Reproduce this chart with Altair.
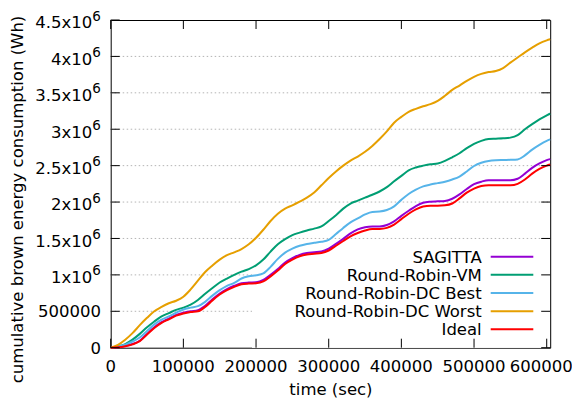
import altair as alt
import pandas as pd

# ---- data (time in seconds, energy in millions of Wh) ----
time_s = [0, 10000, 20000, 30000, 40000, 50000, 60000, 70000, 80000, 90000,
          100000, 110000, 120000, 130000, 140000, 150000, 160000, 170000, 180000, 190000,
          200000, 210000, 220000, 230000, 240000, 250000, 260000, 270000, 280000, 290000,
          300000, 310000, 320000, 330000, 340000, 350000, 360000, 370000, 380000, 390000,
          400000, 410000, 420000, 430000, 440000, 450000, 460000, 470000, 480000, 490000,
          500000, 510000, 520000, 530000, 540000, 550000, 560000, 570000, 580000, 590000,
          600000, 604800]

sagitta = [0, .005, .025, .05, .095, .19, .28, .35, .40, .45,
           .48, .50, .515, .575, .665, .745, .805, .85, .885, .895,
           .90, .93, 1.00, 1.08, 1.17, 1.23, 1.275, 1.30, 1.31, 1.32,
           1.36, 1.425, 1.495, 1.57, 1.625, 1.655, 1.665, 1.665, 1.685, 1.735,
           1.81, 1.88, 1.945, 1.99, 2.005, 2.01, 2.015, 2.045, 2.105, 2.18,
           2.245, 2.28, 2.30, 2.30, 2.30, 2.30, 2.32, 2.39, 2.47, 2.53,
           2.575, 2.59]
rr_vm = [0, .02, .05, .11, .19, .28, .36, .43, .475, .52,
         .55, .59, .655, .74, .82, .895, .95, 1.0, 1.045, 1.08,
         1.13, 1.21, 1.32, 1.42, 1.49, 1.545, 1.58, 1.61, 1.635, 1.665,
         1.74, 1.82, 1.91, 1.98, 2.02, 2.06, 2.10, 2.145, 2.205, 2.285,
         2.36, 2.435, 2.475, 2.50, 2.52, 2.53, 2.565, 2.615, 2.67, 2.74,
         2.80, 2.84, 2.865, 2.87, 2.875, 2.885, 2.92, 3.00, 3.07, 3.135,
         3.19, 3.215]
rr_dc_best = [0, .015, .04, .085, .14, .23, .32, .385, .43, .48,
              .525, .55, .57, .63, .715, .79, .85, .89, .95, .98,
              .995, 1.02, 1.11, 1.22, 1.305, 1.36, 1.40, 1.425, 1.44, 1.455,
              1.48, 1.56, 1.645, 1.72, 1.775, 1.83, 1.865, 1.87, 1.89, 1.94,
              2.03, 2.11, 2.17, 2.215, 2.24, 2.26, 2.28, 2.31, 2.35, 2.42,
              2.495, 2.54, 2.565, 2.575, 2.578, 2.58, 2.585, 2.64, 2.72, 2.785,
              2.84, 2.86]
rr_dc_worst = [0, .04, .11, .20, .31, .41, .50, .56, .61, .645,
               .70, .80, .92, 1.04, 1.13, 1.21, 1.27, 1.31, 1.355, 1.42,
               1.51, 1.62, 1.74, 1.84, 1.91, 1.955, 2.005, 2.06, 2.13, 2.23,
               2.33, 2.42, 2.50, 2.57, 2.625, 2.69, 2.77, 2.865, 2.97, 3.09,
               3.17, 3.24, 3.28, 3.315, 3.345, 3.39, 3.46, 3.54, 3.60, 3.665,
               3.72, 3.76, 3.785, 3.80, 3.84, 3.915, 3.985, 4.055, 4.12, 4.18,
               4.22, 4.235]
ideal = [0, .005, .02, .045, .09, .18, .27, .34, .39, .44,
         .47, .49, .50, .56, .65, .73, .79, .835, .87, .88,
         .885, .91, .98, 1.06, 1.15, 1.21, 1.255, 1.28, 1.29, 1.30,
         1.335, 1.40, 1.465, 1.53, 1.575, 1.61, 1.63, 1.63, 1.645, 1.69,
         1.765, 1.84, 1.90, 1.94, 1.95, 1.95, 1.955, 1.98, 2.05, 2.13,
         2.185, 2.22, 2.23, 2.23, 2.23, 2.23, 2.25, 2.31, 2.39, 2.455,
         2.50, 2.515]

series_names = ["SAGITTA", "Round-Robin-VM", "Round-Robin-DC Best",
                "Round-Robin-DC Worst", "Ideal"]
series_values = [sagitta, rr_vm, rr_dc_best, rr_dc_worst, ideal]
series_colors = ["#9400D3", "#009E73", "#56B4E9", "#E69F00", "#FF0000"]

x_ticks = [0, 100000, 200000, 300000, 400000, 500000, 600000]
x_tick_labels = ["0", "100000", "200000", "300000", "400000", "500000", "600000"]
y_ticks = [0, 500000, 1000000, 1500000, 2000000, 2500000, 3000000, 3500000, 4000000, 4500000]
y_tick_main = ["0", "500000", "1x10", "1.5x10", "2x10", "2.5x10", "3x10", "3.5x10", "4x10", "4.5x10"]
y_tick_sup = ["", "", "6", "6", "6", "6", "6", "6", "6", "6"]

# ---- layout ----
W, H = 439.5, 327.7
FONT = "DejaVu Sans"
FS = 16.5

xs = alt.Scale(domain=[0, 604800], nice=False, zero=False)
ys = alt.Scale(domain=[0, 4500000], nice=False, zero=False)

x_axis = alt.Axis(values=x_ticks, labels=False, ticks=False, tickSize=0, domain=False,
                  grid=False, title="time (sec)", titleFont=FONT, titleFontSize=FS,
                  titleFontWeight="normal", titleColor="black",
                  titleBaseline="alphabetic", titleY=47.0, titleX=W / 2)
y_axis = alt.Axis(values=y_ticks, labels=False, ticks=False, tickSize=0, domain=False,
                  grid=False, title="cumulative brown energy consumption (Wh)",
                  titleFont=FONT, titleFontSize=FS, titleFontWeight="normal",
                  titleColor="black", titleAngle=270, titleAlign="center",
                  titleBaseline="alphabetic", titleX=-88.2, titleY=179)


def X(field):
    return alt.X(field, type="quantitative", scale=xs, axis=x_axis)


def Y(field):
    return alt.Y(field, type="quantitative", scale=ys, axis=y_axis)


layers = []

# grid
grid_df = pd.DataFrame({"v": y_ticks[1:-1]})
layers.append(alt.Chart(grid_df).mark_rule(color="#b4b4b4", strokeWidth=1,
                                           strokeDash=[1.5, 2.5]).encode(
    y=Y("v"), x=alt.value(0), x2=alt.value(W)))

# opaque key box
layers.append(alt.Chart(grid_df).mark_rect(color="white").encode(
    x=alt.value(141.3), x2=alt.value(W - 0.5), y=alt.value(226), y2=alt.value(H - 0.5)))

# series lines
for name, vals, col in zip(series_names, series_values, series_colors):
    df = pd.DataFrame({"t": time_s, "e": [v * 1e6 for v in vals]})
    layers.append(alt.Chart(df).mark_line(color=col, strokeWidth=2,
                                          interpolate="monotone").encode(
        x=X("t"), y=Y("e")))

# inward ticks
xt_df = pd.DataFrame({"t": x_ticks, "lab": x_tick_labels})
yt_df = pd.DataFrame({"v": y_ticks})
TL = 9
layers.append(alt.Chart(xt_df).mark_rule(color="black").encode(
    x=X("t"), y=alt.value(H), y2=alt.value(H - TL)))
layers.append(alt.Chart(xt_df).mark_rule(color="black").encode(
    x=X("t"), y=alt.value(0), y2=alt.value(TL)))
layers.append(alt.Chart(yt_df).mark_rule(color="black").encode(
    y=Y("v"), x=alt.value(0), x2=alt.value(TL)))
layers.append(alt.Chart(yt_df).mark_rule(color="black").encode(
    y=Y("v"), x=alt.value(W - TL), x2=alt.value(W)))

# x tick labels (last one nudged so it stays inside the page)
xl_in = xt_df.iloc[:-1]
xl_last = xt_df.iloc[-1:]
layers.append(alt.Chart(xl_in).mark_text(align="center", baseline="alphabetic", dy=0,
                                         font=FONT, fontSize=FS, color="black").encode(
    x=X("t"), y=alt.value(H + 24.0), text="lab:N"))
layers.append(alt.Chart(xl_last).mark_text(align="center", baseline="alphabetic", dx=-5.5,
                                           font=FONT, fontSize=FS, color="black").encode(
    x=X("t"), y=alt.value(H + 24.0), text="lab:N"))

# y tick labels (with superscripts)
lab_df = pd.DataFrame({"v": y_ticks, "main": y_tick_main, "sup": y_tick_sup})
sup_df = lab_df[lab_df["sup"] != ""]
plain_df = lab_df[lab_df["sup"] == ""]
layers.append(alt.Chart(sup_df).mark_text(align="right", baseline="alphabetic", dy=8.3,
                                          font=FONT, fontSize=FS, color="black").encode(
    y=Y("v"), x=alt.value(-18.4), text="main:N"))
layers.append(alt.Chart(sup_df).mark_text(align="right", baseline="alphabetic", dy=0.6,
                                          font=FONT, fontSize=13.5, color="black").encode(
    y=Y("v"), x=alt.value(-9.8), text="sup:N"))
layers.append(alt.Chart(plain_df).mark_text(align="right", baseline="alphabetic", dy=6,
                                            font=FONT, fontSize=FS, color="black").encode(
    y=Y("v"), x=alt.value(-9.8), text="main:N"))

# key
for i, (name, col) in enumerate(zip(series_names, series_colors)):
    ly = 236.7 + i * 18.15
    kdf = pd.DataFrame({"name": [name]})
    layers.append(alt.Chart(kdf).mark_text(align="right", baseline="alphabetic", dy=6,
                                           font=FONT, fontSize=FS, color="black").encode(
        x=alt.value(371), y=alt.value(ly), text="name:N"))
    layers.append(alt.Chart(kdf).mark_rule(color=col, strokeWidth=2).encode(
        x=alt.value(380), x2=alt.value(422.6), y=alt.value(ly)))

chart = alt.layer(*layers).properties(
    width=W, height=H,
    padding={"left": 102.7, "top": 12, "right": 21.8, "bottom": 52.3},
    autosize=alt.AutoSizeParams(type="none"),
    background="white",
).configure_view(stroke="black", strokeWidth=1)

chart.save("out.html", embed_options={"renderer": "svg", "actions": False})
